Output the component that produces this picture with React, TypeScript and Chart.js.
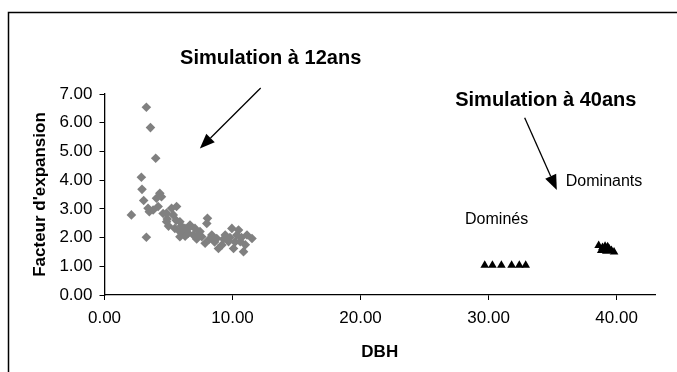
import React, { useEffect, useRef } from "react";
import { Chart, registerables } from "chart.js";

Chart.register(...registerables);

// Simulation à 12ans (diamonds)
const dbh12 = [3.27, 3.59, 4.0, 2.88, 2.93, 3.06, 2.1, 3.27, 4.32, 4.06, 3.4, 3.8, 4.19, 4.58, 4.85, 5.24, 5.63, 5.37, 5.89, 5.5, 5.89, 6.28, 6.68, 6.54, 7.07, 6.94, 7.46, 8.04, 7.99, 7.86, 7.6, 8.38, 8.77, 9.17, 8.9, 9.43, 9.95, 9.69, 10.08, 10.34, 10.6, 10.86, 11.13, 11.52, 10.47, 4.85, 4.45, 5.9, 3.5, 6.1, 7.2, 8.6, 9.3, 10.2, 11.0, 6.3, 4.9, 5.0, 5.6, 6.0, 6.5, 7.3, 8.2, 9.8, 10.7];
const fe12 = [6.54, 5.83, 4.76, 4.1, 3.68, 3.29, 2.79, 2.01, 3.54, 3.37, 3.02, 2.96, 3.08, 2.84, 2.55, 3.02, 3.08, 2.79, 2.55, 2.32, 2.03, 2.32, 2.44, 2.15, 2.32, 2.09, 2.21, 2.67, 2.49, 1.8, 2.03, 2.09, 1.97, 1.74, 1.62, 2.09, 2.32, 1.86, 1.62, 2.09, 1.86, 1.51, 2.09, 1.97, 2.26, 2.85, 3.42, 2.2, 2.9, 2.25, 1.95, 1.85, 1.95, 1.85, 1.75, 2.05, 2.65, 2.4, 2.6, 2.4, 2.3, 2.1, 1.95, 2.0, 2.0];

// Simulation à 40ans — Dominés (triangles)
const dbhDomines = [29.7, 30.3, 31.0, 31.8, 32.4, 32.9];
const feDomines = [1.04, 1.04, 1.04, 1.04, 1.04, 1.04];

// Simulation à 40ans — Dominants (triangles)
const dbhDominants = [38.6, 38.8, 38.9, 39.1, 39.2, 39.4, 39.6, 39.8, 39.0, 39.3];
const feDominants = [1.72, 1.55, 1.65, 1.7, 1.52, 1.62, 1.55, 1.5, 1.58, 1.68];

const yTicks = [0, 1, 2, 3, 4, 5, 6, 7];
const xTicks = [0, 10, 20, 30, 40];

const FONT = "Arial, 'Liberation Sans', sans-serif";

const zip = (xs: number[], ys: number[]) => xs.map((x, i) => ({ x, y: ys[i] }));

const annotationPlugin = {
  id: "annotations",
  beforeDraw(chart: any) {
    const ctx = chart.ctx;
    ctx.save();
    ctx.strokeStyle = "#000";
    ctx.lineWidth = 1.5;
    ctx.beginPath();
    ctx.moveTo(8.5, 372);
    ctx.lineTo(8.5, 12.5);
    ctx.lineTo(677, 12.5);
    ctx.stroke();
    ctx.restore();
  },
  afterDraw(chart: any) {
    const ctx = chart.ctx;
    const xs = chart.scales.x;
    const ys = chart.scales.y;
    const px = (v: number) => xs.getPixelForValue(v);
    const py = (v: number) => ys.getPixelForValue(v);
    ctx.save();
    ctx.fillStyle = "#000";
    ctx.textAlign = "center";
    ctx.textBaseline = "middle";
    ctx.font = `bold 20px ${FONT}`;
    ctx.fillText("Simulation à 12ans", px(12.98), py(8.22));
    ctx.fillText("Simulation à 40ans", px(34.47), py(6.76));
    ctx.font = `16px ${FONT}`;
    ctx.fillText("Dominants", px(39.02), py(3.94));
    ctx.fillText("Dominés", px(30.63), py(2.61));

    const arrow = (x1: number, y1: number, x2: number, y2: number) => {
      const ax = px(x1), ay = py(y1), bx = px(x2), by = py(y2);
      const ang = Math.atan2(by - ay, bx - ax);
      const len = 15, half = 6;
      const baseX = bx - len * Math.cos(ang);
      const baseY = by - len * Math.sin(ang);
      ctx.strokeStyle = "#000";
      ctx.lineWidth = 1.3;
      ctx.beginPath();
      ctx.moveTo(ax, ay);
      ctx.lineTo(baseX, baseY);
      ctx.stroke();
      ctx.beginPath();
      ctx.moveTo(bx, by);
      ctx.lineTo(baseX + half * Math.sin(ang), baseY - half * Math.cos(ang));
      ctx.lineTo(baseX - half * Math.sin(ang), baseY + half * Math.cos(ang));
      ctx.closePath();
      ctx.fill();
    };
    arrow(12.2, 7.21, 7.45, 5.1);
    arrow(32.82, 6.17, 35.33, 3.66);
    ctx.restore();
  },
};

export default function App() {
  const ref = useRef<HTMLCanvasElement | null>(null);
  useEffect(() => {
    if (!ref.current) return;
    const chart = new Chart(ref.current, {
      type: "scatter",
      data: {
        datasets: [
          {
            label: "12ans",
            data: zip(dbh12, fe12),
            pointStyle: "rectRot",
            radius: 4.8,
            backgroundColor: "#808080",
            borderColor: "#808080",
            borderWidth: 0,
          },
          {
            label: "Dominés",
            data: zip(dbhDomines, feDomines),
            pointStyle: "triangle",
            radius: 5,
            backgroundColor: "#000",
            borderColor: "#000",
            borderWidth: 0,
          },
          {
            label: "Dominants",
            data: zip(dbhDominants, feDominants),
            pointStyle: "triangle",
            radius: 5,
            backgroundColor: "#000",
            borderColor: "#000",
            borderWidth: 0,
          },
        ],
      },
      options: {
        responsive: false,
        animation: false,
        layout: { padding: { left: 9, top: 94, right: 22, bottom: 0 } },
        plugins: { legend: { display: false }, tooltip: { enabled: false } },
        scales: {
          x: {
            type: "linear",
            min: 0,
            max: 43,
            afterBuildTicks: (s: any) => {
              s.ticks = xTicks.map((v) => ({ value: v }));
            },
            afterFit: (s: any) => {
              s.height = 77;
            },
            ticks: {
              color: "#000",
              font: { family: FONT, size: 17 },
              padding: 8,
              callback: (v: any) => Number(v).toFixed(2),
            },
            grid: { drawOnChartArea: false, drawTicks: true, tickLength: 5, color: "#000", lineWidth: 1 },
            border: { display: true, color: "#000", width: 1.3 },
            title: {
              display: true,
              text: "DBH",
              color: "#000",
              font: { family: FONT, size: 17, weight: "bold" },
              padding: { top: 0, bottom: 9 },
            },
          },
          y: {
            type: "linear",
            min: 0,
            max: 7,
            afterBuildTicks: (s: any) => {
              s.ticks = yTicks.map((v) => ({ value: v }));
            },
            afterFit: (s: any) => {
              s.width = 95.5;
            },
            ticks: {
              color: "#000",
              font: { family: FONT, size: 17 },
              padding: 7,
              callback: (v: any) => Number(v).toFixed(2),
            },
            grid: { drawOnChartArea: false, drawTicks: true, tickLength: 5, color: "#000", lineWidth: 1 },
            border: { display: true, color: "#000", width: 1.3 },
            title: {
              display: true,
              text: "Facteur d'expansion",
              color: "#000",
              font: { family: FONT, size: 17, weight: "bold" },
              padding: { top: 21, bottom: 0 },
            },
          },
        },
      },
      plugins: [annotationPlugin],
    } as any);
    return () => chart.destroy();
  }, []);
  return (
    <div style={{ position: "absolute", left: 0, top: 0, width: 677, height: 372 }}>
      <canvas ref={ref} width={677} height={372} style={{ display: "block" }} />
    </div>
  );
}
